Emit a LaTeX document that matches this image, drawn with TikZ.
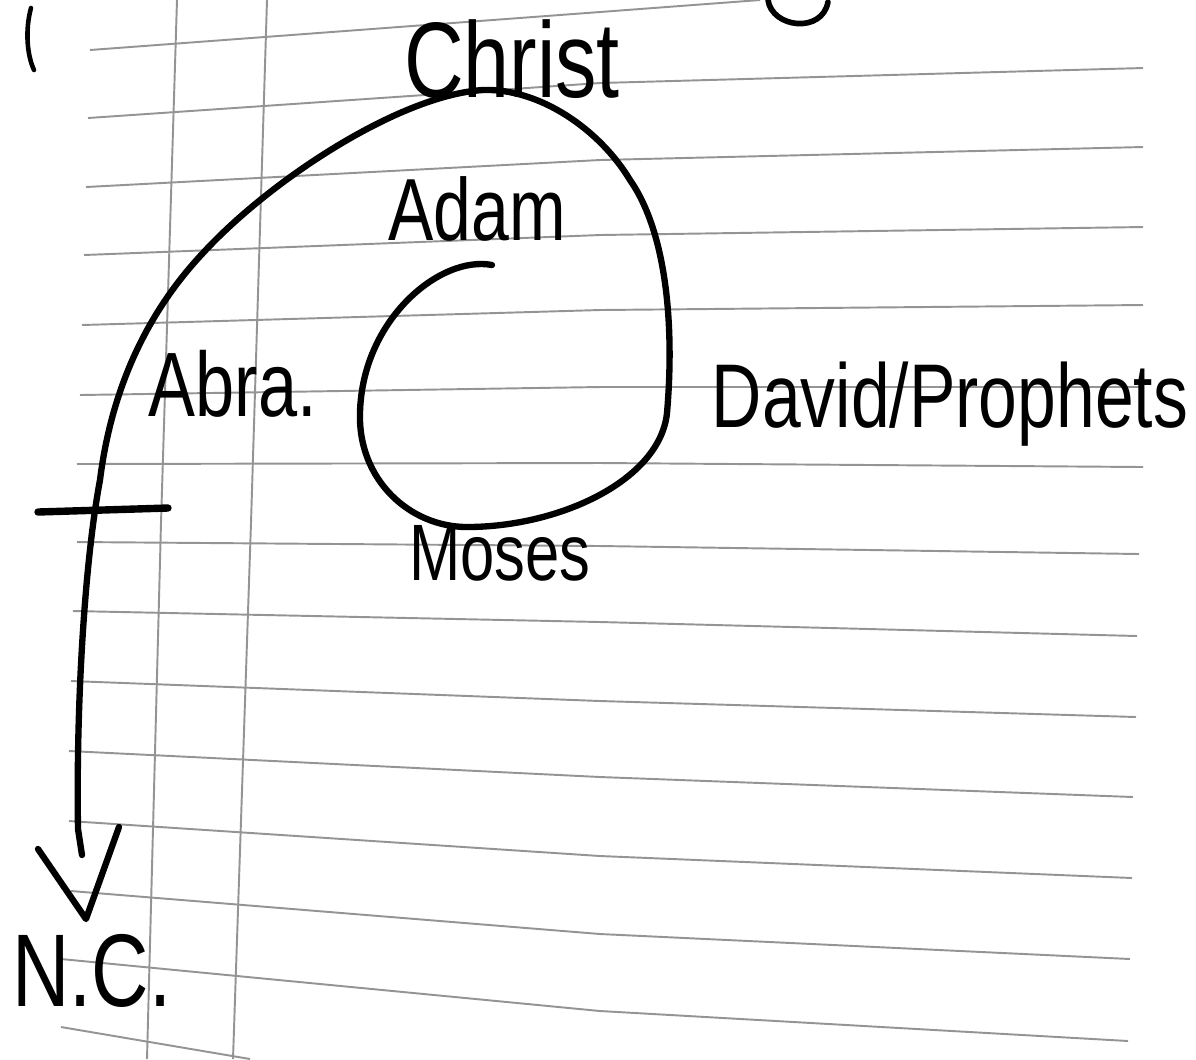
\documentclass[tikz,border=0pt]{standalone}
\usepackage{fontspec}
\usepackage{graphicx}
\setmainfont{Liberation Sans}
\begin{document}
\begin{tikzpicture}[x=0.01cm,y=-0.01cm,
  paper/.style={draw=black!42,line width=0.55pt},
  ink/.style={draw=black,line width=1.8pt,line cap=round,line join=round},
  lbl/.style={inner sep=0pt,anchor=base,text=black}]
\useasboundingbox (0,0) rectangle (1196,1059);
\fill[white] (0,0) rectangle (1196,1059);
% ruled paper
\draw[paper] (90,50) -- (600,12) -- (760,0);
\draw[paper] (88,118) -- (600,83) -- (1143,68);
\draw[paper] (86,187) -- (600,160) -- (1143,147);
\draw[paper] (84,255) -- (600,235) -- (1143,227);
\draw[paper] (82,325) -- (600,310) -- (1143,305);
\draw[paper] (80,395) -- (600,387) -- (1143,387);
\draw[paper] (77,464) -- (600,463) -- (1143,467);
\draw[paper] (77,542) -- (600,546) -- (1139,554);
\draw[paper] (73,611) -- (600,622) -- (1137,636);
\draw[paper] (71,681) -- (600,701) -- (1136,717);
\draw[paper] (69,751) -- (600,777) -- (1133,797);
\draw[paper] (69,821) -- (600,856) -- (1132,878);
\draw[paper] (71,891) -- (600,934) -- (1130,959);
\draw[paper] (61,959) -- (600,1011) -- (1128,1041);
\draw[paper] (61,1027) -- (250,1059);
\draw[paper] (177,0) -- (161,523) -- (147,1059);
\draw[paper] (267,0) -- (251,523) -- (233,1059);
% cut-off marks at the top edge
\draw[ink,line width=1.3pt] (31,8) .. controls (25,30) and (27,55) .. (34,70);
\draw[ink,line width=1.6pt] (768,0) .. controls (772,28) and (822,34) .. (828,2);
% spiral
\coordinate (start) at (492,265);
\coordinate (inW) at (360,413);
\coordinate (inS) at (467,527);
\coordinate (inE) at (667,413);
\coordinate (outNE) at (630,180);
\coordinate (outN) at (483,90);
\coordinate (outNW) at (203,253);
\coordinate (outW) at (100,480);
\coordinate (shaft) at (78,829);
\coordinate (tipend) at (82,855);
\draw[ink] (start) .. controls (440,255) and (362,320) .. (inW)
  .. controls (358,480) and (410,527) .. (inS)
  .. controls (560,527) and (660,480) .. (inE)
  .. controls (675,320) and (665,230) .. (outNE)
  .. controls (600,130) and (540,88) .. (outN)
  .. controls (400,95) and (270,180) .. (outNW)
  .. controls (140,320) and (110,400) .. (outW)
  .. controls (85,560) and (76,700) .. (shaft)
  -- (tipend);
% cross tick
\coordinate (tickL) at (38,512);
\coordinate (tickR) at (168,508);
\draw[ink,line width=2.1pt] (tickL) -- (tickR);
% arrow head
\coordinate (vL) at (38,849);
\coordinate (vB) at (86,919);
\coordinate (vR) at (119,827);
\draw[ink] (vL) -- (vB) -- (vR);
% labels
\node[lbl] (christ) at (512,97) {\fontsize{23.5}{28}\selectfont\scalebox{1}[1.3]{Christ}};
\node[lbl] (adam) at (477,240) {\fontsize{19.3}{23}\selectfont\scalebox{1}[1.3]{Adam}};
\node[lbl] (abra) at (233,416) {\fontsize{20}{24}\selectfont\scalebox{1}[1.3]{Abra.}};
\node[lbl] (david) at (950,427) {\fontsize{19.8}{24}\selectfont\scalebox{1}[1.3]{David/Prophets}};
\node[lbl] (moses) at (500,580) {\fontsize{17.5}{21}\selectfont\scalebox{1}[1.3]{Moses}};
\node[lbl] (nc) at (92,1006) {\fontsize{22.6}{27}\selectfont\scalebox{1}[1.3]{N.C.}};
\end{tikzpicture}
\end{document}
